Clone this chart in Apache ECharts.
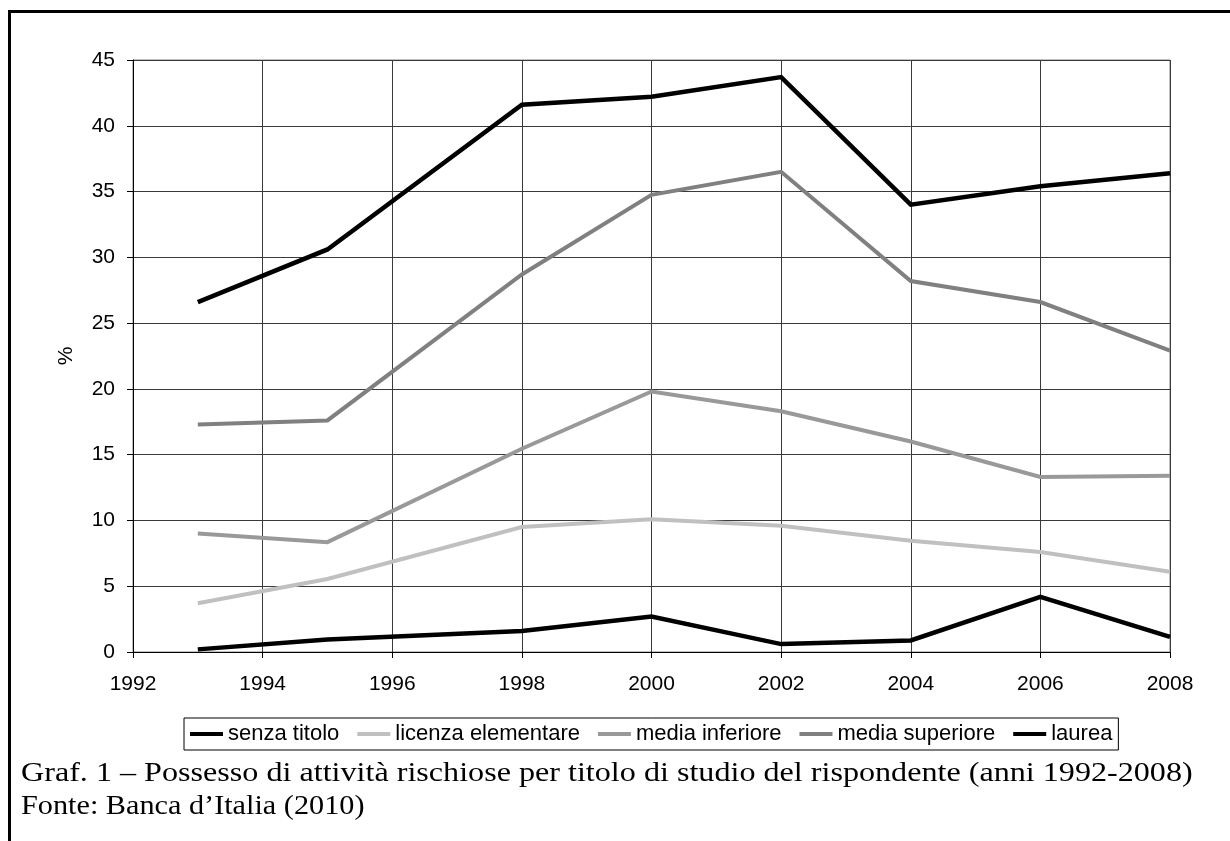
<!DOCTYPE html>
<html>
<head>
<meta charset="utf-8">
<script src="https://cdn.jsdelivr.net/npm/echarts@6/dist/echarts.min.js"></script>
<style>
html,body{margin:0;padding:0;background:#fff;}
#chart{width:1230px;height:841px;}
</style>
</head>
<body>
<div id="chart"></div>
<script>
const years = [1993, 1995, 1998, 2000, 2002, 2004, 2006, 2008];
const senzaTitolo = [0.2, 0.95, 1.6, 2.7, 0.6, 0.88, 4.2, 1.15];
const licenzaElementare = [3.7, 5.55, 9.5, 10.1, 9.6, 8.45, 7.6, 6.1];
const mediaInferiore = [9.0, 8.35, 15.45, 19.8, 18.3, 16.0, 13.3, 13.4];
const mediaSuperiore = [17.3, 17.6, 28.7, 34.75, 36.5, 28.2, 26.6, 22.9];
const laurea = [26.6, 30.6, 41.6, 42.2, 43.7, 34.0, 35.4, 36.4];
const seriesNames = ['senza titolo', 'licenza elementare', 'media inferiore', 'media superiore', 'laurea'];
const seriesValues = [senzaTitolo, licenzaElementare, mediaInferiore, mediaSuperiore, laurea];
const xTicks = {min: 1992, max: 2008, interval: 2};
const yTicks = {min: 0, max: 45, interval: 5};
const captionLine1 = 'Graf. 1 – Possesso di attività rischiose per titolo di studio del rispondente (anni 1992-2008)';
const captionLine2 = 'Fonte: Banca d’Italia (2010)';

const colors = ['#000000', '#c0c0c0', '#999999', '#808080', '#000000'];
const widths = [4.5, 4, 4, 4, 4.5];

const chart = echarts.init(document.getElementById('chart'), null, {renderer: 'canvas'});
const sansFont = '"Liberation Sans", Arial, sans-serif';
const serifFont = '"Liberation Serif", "Times New Roman", serif';

const option = {
  backgroundColor: '#ffffff',
  animation: false,
  color: colors,
  grid: {
    left: 133, right: 60, top: 60, bottom: 189,
    show: true, borderColor: '#808080', borderWidth: 1, backgroundColor: 'transparent'
  },
  xAxis: {
    type: 'value',
    min: xTicks.min, max: xTicks.max, interval: xTicks.interval,
    axisLine: {show: true, onZero: false, lineStyle: {color: '#000', width: 1}},
    axisTick: {show: true, inside: false, length: 6, lineStyle: {color: '#000'}},
    axisLabel: {color: '#000', fontFamily: sansFont, fontSize: 21, margin: 22, formatter: v => String(v)},
    splitLine: {show: true, lineStyle: {color: '#3a3a3a', width: 1}}
  },
  yAxis: {
    type: 'value',
    min: yTicks.min, max: yTicks.max, interval: yTicks.interval,
    name: '%',
    nameLocation: 'middle',
    nameGap: 56,
    nameRotate: 90,
    nameTextStyle: {color: '#000', fontFamily: sansFont, fontSize: 21},
    axisLine: {show: true, lineStyle: {color: '#000', width: 1}},
    axisTick: {show: true, inside: false, length: 6, lineStyle: {color: '#000'}},
    axisLabel: {color: '#000', fontFamily: sansFont, fontSize: 21, margin: 18},
    splitLine: {show: true, lineStyle: {color: '#3a3a3a', width: 1}}
  },
  legend: {
    show: true,
    left: 184, top: 718,
    orient: 'horizontal',
    padding: [5, 6],
    itemGap: 18,
    itemWidth: 33,
    itemHeight: 4,
    borderColor: '#000',
    borderWidth: 1,
    icon: 'rect',
    textStyle: {color: '#000', fontFamily: sansFont, fontSize: 22},
    data: seriesNames
  },
  series: seriesNames.map((name, i) => ({
    name: name,
    type: 'line',
    data: years.map((y, j) => [y, seriesValues[i][j]]),
    showSymbol: false,
    symbol: 'none',
    lineStyle: {color: colors[i], width: widths[i], join: 'miter'},
    itemStyle: {color: colors[i]},
    z: i === 0 || i === 4 ? 5 : 3
  })),
  graphic: [
    {type: 'rect', shape: {x: 8, y: 10, width: 1222, height: 3}, style: {fill: '#000'}, silent: true},
    {type: 'rect', shape: {x: 8, y: 10, width: 3, height: 831}, style: {fill: '#000'}, silent: true},
    {type: 'text', x: 21, y: 760, scaleX: 1.19, style: {text: captionLine1, fill: '#000', fontFamily: serifFont, fontSize: 27, verticalAlign: 'top'}, silent: true},
    {type: 'text', x: 21, y: 793, scaleX: 1.12, style: {text: captionLine2, fill: '#000', fontFamily: serifFont, fontSize: 27, verticalAlign: 'top'}, silent: true}
  ]
};
chart.setOption(option);
</script>
</body>
</html>
